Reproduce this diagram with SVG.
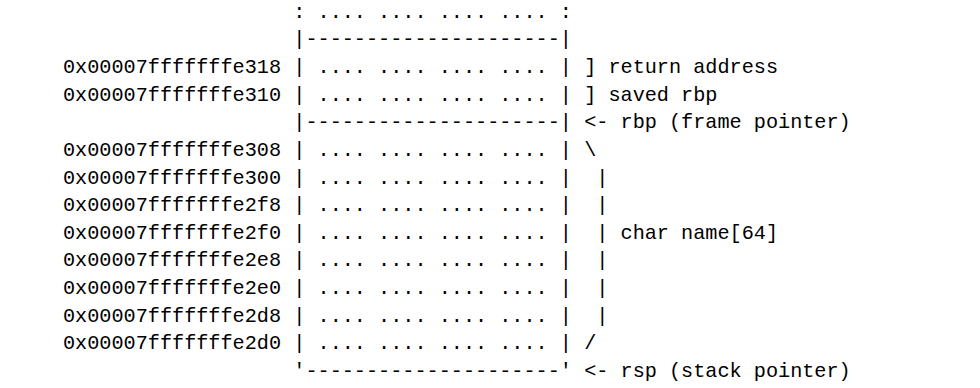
<svg xmlns="http://www.w3.org/2000/svg" width="980" height="388" viewBox="0 0 980 388">
  <style>
    text { font-family: "Liberation Mono", "DejaVu Sans Mono", monospace; font-size: 20.2px; fill: #000; white-space: pre; }
  </style>
  <rect width="980" height="388" fill="#fff"/>
  <!-- stack addresses, one per 8-byte slot -->
  <g id="addresses">
    <text x="63" y="73">0x00007fffffffe318</text>
    <text x="63" y="100.6">0x00007fffffffe310</text>
    <text x="63" y="155.9">0x00007fffffffe308</text>
    <text x="63" y="183.5">0x00007fffffffe300</text>
    <text x="63" y="211.2">0x00007fffffffe2f8</text>
    <text x="63" y="238.8">0x00007fffffffe2f0</text>
    <text x="63" y="266.4">0x00007fffffffe2e8</text>
    <text x="63" y="294.1">0x00007fffffffe2e0</text>
    <text x="63" y="321.7">0x00007fffffffe2d8</text>
    <text x="63" y="349.3">0x00007fffffffe2d0</text>
  </g>
  <!-- the stack frame drawn as a text box -->
  <g id="frame" xml:space="preserve">
    <text x="293.3" y="17.7">: .... .... .... .... :</text>
    <text x="293.3" y="45.3">|---------------------|</text>
    <text x="293.3" y="73">| .... .... .... .... |</text>
    <text x="293.3" y="100.6">| .... .... .... .... |</text>
    <text x="293.3" y="128.2">|---------------------|</text>
    <text x="293.3" y="155.9">| .... .... .... .... |</text>
    <text x="293.3" y="183.5">| .... .... .... .... |</text>
    <text x="293.3" y="211.2">| .... .... .... .... |</text>
    <text x="293.3" y="238.8">| .... .... .... .... |</text>
    <text x="293.3" y="266.4">| .... .... .... .... |</text>
    <text x="293.3" y="294.1">| .... .... .... .... |</text>
    <text x="293.3" y="321.7">| .... .... .... .... |</text>
    <text x="293.3" y="349.3">| .... .... .... .... |</text>
    <text x="293.3" y="377">'---------------------'</text>
  </g>
  <!-- annotations on the right -->
  <g id="annotations" xml:space="preserve">
    <text x="584.2" y="73">] return address</text>
    <text x="584.2" y="100.6">] saved rbp</text>
    <text x="584.2" y="128.2">&lt;- rbp (frame pointer)</text>
    <text x="584.2" y="155.9">\</text>
    <text x="584.2" y="183.5"> |</text>
    <text x="584.2" y="211.2"> |</text>
    <text x="584.2" y="238.8"> | char name[64]</text>
    <text x="584.2" y="266.4"> |</text>
    <text x="584.2" y="294.1"> |</text>
    <text x="584.2" y="321.7"> |</text>
    <text x="584.2" y="349.3">/</text>
    <text x="584.2" y="377">&lt;- rsp (stack pointer)</text>
  </g>
</svg>
